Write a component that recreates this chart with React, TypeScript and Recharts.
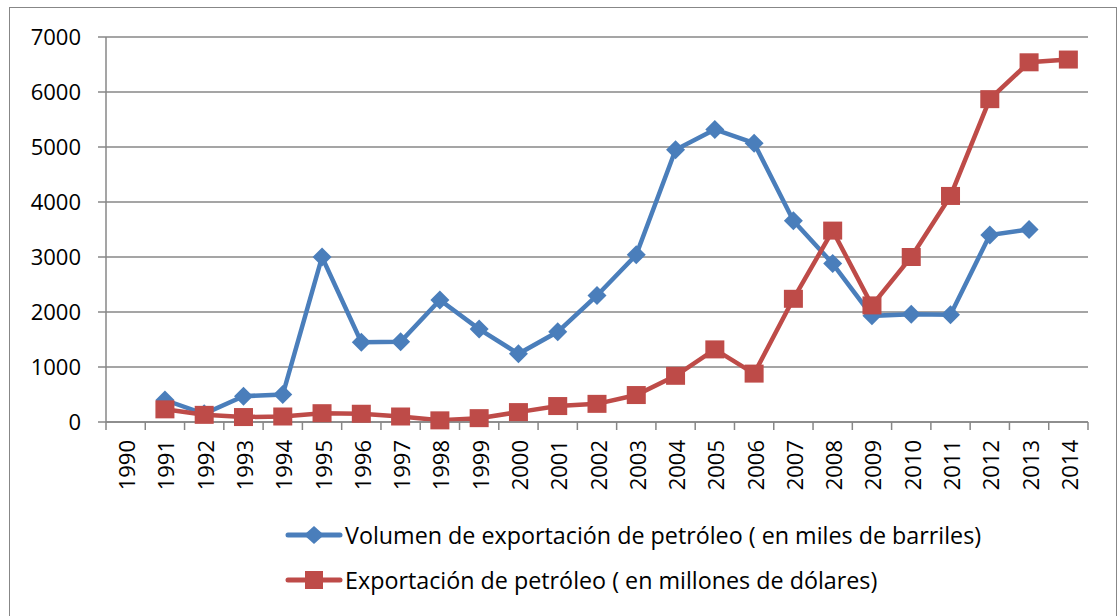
import React from 'react';
import { LineChart, Line, XAxis, YAxis, CartesianGrid } from 'recharts';

const years = [
  '1990', '1991', '1992', '1993', '1994', '1995', '1996', '1997', '1998', '1999',
  '2000', '2001', '2002', '2003', '2004', '2005', '2006', '2007', '2008', '2009',
  '2010', '2011', '2012', '2013', '2014',
];

// miles de barriles
const volumen = [
  null, 400, 150, 470, 500, 3000, 1450, 1460, 2220, 1690,
  1240, 1640, 2300, 3040, 4950, 5320, 5070, 3660, 2880, 1930,
  1960, 1950, 3400, 3500, null,
];

// millones de dólares
const exportacion = [
  null, 230, 130, 90, 100, 160, 150, 100, 30, 70,
  180, 290, 330, 490, 840, 1320, 880, 2240, 3480, 2120,
  3000, 4110, 5870, 6540, 6590,
];

const yTicks = [0, 1000, 2000, 3000, 4000, 5000, 6000, 7000];

const seriesNames = {
  volumen: 'Volumen de exportación de petróleo ( en miles de barriles)',
  exportacion: 'Exportación de petróleo ( en millones de dólares)',
};

const BLUE = '#4a7ebb';
const RED = '#be4b48';
const GRID = '#878787';
const FONT = '"Open Sans", "Noto Sans", sans-serif';

const W = 1118;
const H = 616;
const LEFT = 106;
const RIGHT = 30;
const BAND = (W - LEFT - RIGHT) / years.length;

const data = years.map((year, i) => ({
  year,
  volumen: volumen[i],
  exportacion: exportacion[i],
}));

const Diamond = (props: any) => {
  const { cx, cy, value } = props;
  if (value == null || cx == null || cy == null) return null;
  const r = 9.5;
  return (
    <polygon
      points={`${cx},${cy - r} ${cx + r},${cy} ${cx},${cy + r} ${cx - r},${cy}`}
      fill={BLUE}
    />
  );
};

const Square = (props: any) => {
  const { cx, cy, value } = props;
  if (value == null || cx == null || cy == null) return null;
  return <rect x={cx - 9.5} y={cy - 9} width={19} height={18} fill={RED} />;
};

const YearTick = (props: any) => {
  const { x, y, payload, index } = props;
  const half = BAND / 2;
  return (
    <g>
      <line x1={x - half} y1={y} x2={x - half} y2={y + 8} stroke={GRID} strokeWidth={1.5} />
      {index === years.length - 1 && (
        <line x1={x + half} y1={y} x2={x + half} y2={y + 8} stroke={GRID} strokeWidth={1.5} />
      )}
      <text
        transform={`translate(${x + 9.5},${y + 18}) rotate(-90)`}
        textAnchor="end"
        fontSize={22}
        fontFamily={FONT}
        fill="#000"
      >
        {payload.value}
      </text>
    </g>
  );
};

const LegendRow = ({ color, label, square }: { color: string; label: string; square?: boolean }) => (
  <div style={{ display: 'flex', alignItems: 'center', height: 45 }}>
    <svg width={60} height={24} style={{ flex: 'none' }}>
      <line x1={3} y1={12} x2={55} y2={12} stroke={color} strokeWidth={5} strokeLinecap="round" />
      {square ? (
        <rect x={20} y={3} width={18} height={18} fill={color} />
      ) : (
        <polygon points="29,3 39,12 29,21 19,12" fill={color} />
      )}
    </svg>
    <span style={{ fontFamily: FONT, fontSize: 23.3, color: '#000', whiteSpace: 'nowrap' }}>{label}</span>
  </div>
);

export default function App() {
  return (
    <div style={{ position: 'absolute', left: 0, top: 0, width: W, height: H, overflow: 'hidden', background: '#fff' }}>
      <div
        style={{
          position: 'absolute',
          left: 9,
          top: 7,
          width: 1108,
          height: 700,
          border: `1.5px solid ${GRID}`,
          boxSizing: 'border-box',
        }}
      />
      <div style={{ position: 'absolute', left: 0, top: 0 }}>
        <LineChart width={W} height={H} data={data} margin={{ top: 37, right: RIGHT, left: 10, bottom: 0 }}>
          <CartesianGrid vertical={false} stroke={GRID} strokeWidth={1.5} />
          <XAxis
            dataKey="year"
            interval={0}
            height={194}
            padding={{ left: BAND / 2, right: BAND / 2 }}
            tickLine={false}
            tickSize={0}
            tickMargin={0}
            stroke={GRID}
            strokeWidth={1.5}
            tick={<YearTick />}
          />
          <YAxis
            width={96}
            domain={[0, 7000]}
            ticks={yTicks}
            interval={0}
            tickSize={8}
            tickMargin={17}
            stroke={GRID}
            strokeWidth={1.5}
            tick={{ fill: '#000', fontSize: 22, fontFamily: FONT }}
          />
          <Line
            type="linear"
            dataKey="volumen"
            name={seriesNames.volumen}
            stroke={BLUE}
            strokeWidth={4.5}
            dot={<Diamond />}
            activeDot={false}
            isAnimationActive={false}
          />
          <Line
            type="linear"
            dataKey="exportacion"
            name={seriesNames.exportacion}
            stroke={RED}
            strokeWidth={4.5}
            dot={<Square />}
            activeDot={false}
            isAnimationActive={false}
          />
        </LineChart>
      </div>
      <div style={{ position: 'absolute', left: 285, top: 512 }}>
        <LegendRow color={BLUE} label={seriesNames.volumen} />
        <LegendRow color={RED} label={seriesNames.exportacion} square />
      </div>
    </div>
  );
}
